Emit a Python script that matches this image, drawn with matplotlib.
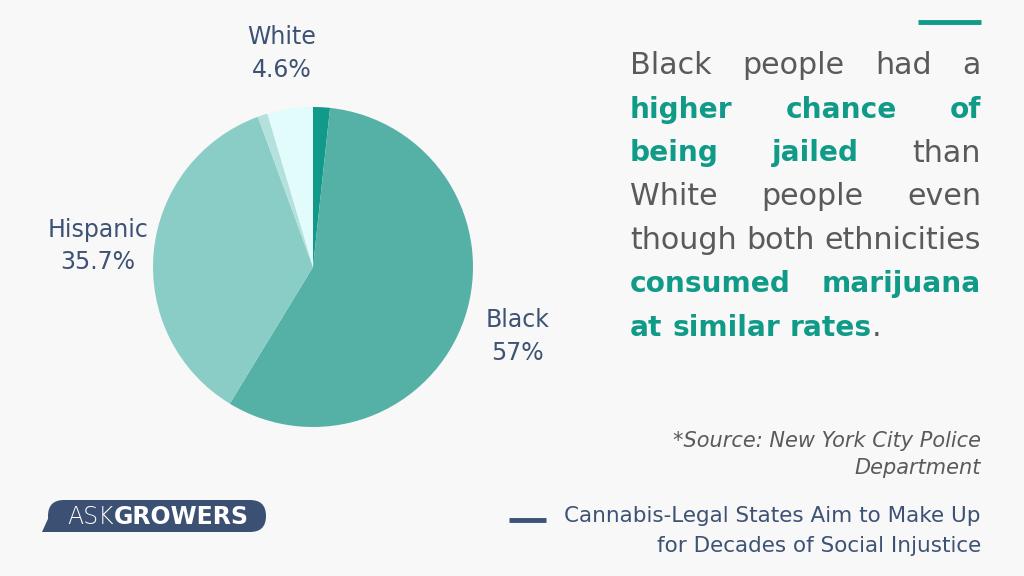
import matplotlib.pyplot as plt
from matplotlib.patches import FancyBboxPatch, Polygon

# pie data, clockwise from 12 o'clock
groups = ['', 'Black', 'Hispanic', '', 'White']
shares = [1.7, 57.0, 35.7, 1.0, 4.6]
share_labels = ['', '57%', '35.7%', '', '4.6%']
slice_colors = ['#11998a', '#55b1a6', '#89cdc6', '#b4e1dd', '#e2fbfb']

# right hand text, (word, highlighted)
text_lines = [
    [('Black', 0), ('people', 0), ('had', 0), ('a', 0)],
    [('higher', 1), ('chance', 1), ('of', 1)],
    [('being', 1), ('jailed', 1), ('than', 0)],
    [('White', 0), ('people', 0), ('even', 0)],
    [('though', 0), ('both', 0), ('ethnicities', 0)],
    [('consumed', 1), ('marijuana', 1)],
    [('at', 1), ('similar', 1), ('rates', 1)],
]
source_lines = ['*Source: New York City Police', 'Department']
link_lines = ['Cannabis-Legal States Aim to Make Up', 'for Decades of Social Injustice']

bg = '#f8f8f8'
teal = '#109a88'
grey = '#5a5a5a'
navy = '#3d5275'
font = 'DejaVu Sans'

fig = plt.figure(figsize=(10.24, 5.76), dpi=100, facecolor=bg)

# overlay in pixel coords for the text parts
ov = fig.add_axes([0, 0, 1, 1])
ov.set_xlim(0, 1024)
ov.set_ylim(576, 0)
ov.axis('off')

# pie
ax = fig.add_axes([153 / 1024, (576 - 427) / 576, 320 / 1024, 320 / 576])
labels = [f'{g}\n{s}' if g else '' for g, s in zip(groups, share_labels)]
wedges, texts = ax.pie(shares, colors=slice_colors, startangle=90, counterclock=False,
                       labels=labels, labeldistance=1.35,
                       wedgeprops=dict(linewidth=0),
                       textprops=dict(color=navy, fontsize=17, family=font))
for t in texts:
    t.set_ha('center')
    t.set_va('center')
    t.set_linespacing(1.45)
ax.set_xlim(-1, 1)
ax.set_ylim(-1, 1)
ax.set_aspect('equal')

# accent line top right
ov.plot([918, 981], [22, 22], color=teal, lw=3.5, solid_capstyle='butt')

fig.canvas.draw()
renderer = fig.canvas.get_renderer()

# paragraph font size chosen so the widest plain line fills the column
x_left, x_right = 630, 981
probe = ov.text(0, 0, 'though both ethnicities', fontsize=20, family=font)
fs = 20 * (x_right - x_left) / probe.get_window_extent(renderer).width
probe.remove()
fs_b = fs * 0.93

y0, dy = 66, 43.6
for i, line in enumerate(text_lines):
    y = y0 + i * dy
    objs = []
    for word, hi in line:
        t = ov.text(0, y, word, fontsize=fs_b if hi else fs, family=font,
                    color=teal if hi else grey,
                    weight='bold' if hi else 'normal',
                    va='center', ha='left')
        objs.append(t)
    widths = [o.get_window_extent(renderer).width for o in objs]
    last = i == len(text_lines) - 1
    if last:
        sp = ov.text(0, 0, 'a b', fontsize=fs_b, family=font, weight='bold')
        sp2 = ov.text(0, 0, 'ab', fontsize=fs_b, family=font, weight='bold')
        gap = sp.get_window_extent(renderer).width - sp2.get_window_extent(renderer).width
        sp.remove()
        sp2.remove()
    else:
        gap = (x_right - x_left - sum(widths)) / (len(objs) - 1)
    x = x_left
    for o, w in zip(objs, widths):
        o.set_x(x)
        x += w + gap
    if last:
        ov.text(x - gap, y, '.', fontsize=fs, family=font, color=grey, va='center', ha='left')

# source note
for j, s in enumerate(source_lines):
    ov.text(981, 441 + j * 27, s, fontsize=15, family=font, style='italic',
            color='#5a5a5a', ha='right', va='center')

# related article link
ov.plot([509, 546], [520, 520], color=navy, lw=3.5, solid_capstyle='butt')
for j, s in enumerate(link_lines):
    ov.text(981, 516 + j * 30, s, fontsize=15.5, family=font, color=navy,
            ha='right', va='center')

# logo bubble
logo_c = '#3b5072'
bubble = FancyBboxPatch((48, 500), 218, 32, boxstyle='round,pad=0,rounding_size=16',
                        facecolor=logo_c, edgecolor='none')
ov.add_patch(bubble)
ov.add_patch(Polygon([[52, 510], [66, 532], [42, 532]], closed=True,
                     facecolor=logo_c, edgecolor='none'))
ask = ov.text(67, 517, 'ASK', fontsize=17, family=font, weight='light',
              color='white', ha='left', va='center')
aw = ask.get_window_extent(renderer).width
ov.text(67 + aw, 517, 'GROWERS', fontsize=17, family=font, weight='bold',
        color='white', ha='left', va='center')

fig.savefig('out.png', dpi=100, facecolor=bg)
